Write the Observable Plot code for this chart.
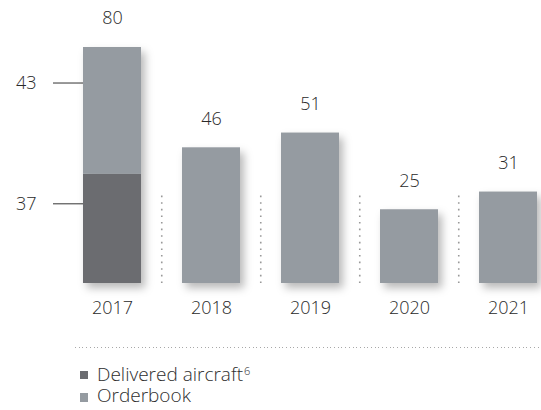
<!DOCTYPE html>
<html><head><meta charset="utf-8">
<script src="https://cdn.jsdelivr.net/npm/d3@7"></script>
<script src="https://cdn.jsdelivr.net/npm/@observablehq/plot@0.6"></script>
<style>
body{margin:0;background:#fff;font-family:"Open Sans",Lato,sans-serif;font-weight:300;}
#chart svg g[aria-label="bar"]{filter:drop-shadow(4px 5px 4px rgba(0,0,0,0.28));}
.sep{margin-left:75px;height:1px;margin-top:7px;background:repeating-linear-gradient(to right,#a8a8a8 0 1px,transparent 1px 3.7px);}
.legend{margin-left:80px;margin-top:16px;font-size:19px;color:#2e2e2e;line-height:21px}
.sw{display:inline-block;width:8px;height:8px;margin-right:9px;vertical-align:2px}
sup{font-size:11px;vertical-align:6px;line-height:0;margin-left:1px}
</style></head>
<body>
<div id="chart"></div>
<div class="sep"></div>
<div class="legend" id="legend"></div>
<script>
const years = ["2017", "2018", "2019", "2020", "2021"];
const delivered = [37, 0, 0, 0, 0];
const orderbook = [43, 46, 51, 25, 31];
const totals = [80, 46, 51, 25, 31];
const seriesNames = ["Delivered aircraft", "Orderbook"];
const seriesColors = ["#6b6c70", "#959ba1"];
const sideLabels = [37, 43]; // segment labels shown left of the 2017 bar

const rows = [];
years.forEach((y, i) => {
  if (delivered[i]) rows.push({year: y, type: seriesNames[0], value: delivered[i]});
  rows.push({year: y, type: seriesNames[1], value: orderbook[i]});
});
const totalRows = years.map((y, i) => ({year: y, total: totals[i]}));
// label anchor positions inside each 2017 segment
const sideRows = [
  {year: years[0], v: sideLabels[0], y: sideLabels[0] * 0.73},
  {year: years[0], v: sideLabels[1], y: sideLabels[0] + sideLabels[1] * 0.72}
];

const W = 541, ML = 82, MR = 3, PAD = 0.417;
const step = (W - ML - MR) / (years.length - PAD);
const bw = step * (1 - PAD);
const FS = 18;

const plot = Plot.plot({
  width: W, height: 340,
  marginLeft: ML, marginRight: MR, marginTop: 47, marginBottom: 57,
  style: {fontFamily: "'Open Sans', Lato, sans-serif", fontWeight: 300, background: "#fff", overflow: "visible"},
  x: {domain: years, axis: null, paddingInner: PAD, paddingOuter: 0},
  y: {domain: [0, 80], axis: null},
  color: {domain: seriesNames, range: seriesColors},
  marks: [
    Plot.tickY(sideRows, {x: "year", y: "y", dx: -30, insetRight: 28, stroke: "#333", strokeWidth: 1}),
    Plot.text(sideRows, {x: "year", y: "y", text: d => String(d.v), dx: -bw / 2 - 47, textAnchor: "end", fontSize: FS, fill: "#2a2a2a"}),
    Plot.ruleX(years.slice(1), {x: d => d, y1: 0, y2: 30, dx: -step / 2, stroke: "#999", strokeWidth: 1.6, strokeDasharray: "1.6,5"}),
    Plot.barY(rows, Plot.stackY({x: "year", y: "value", fill: "type", order: seriesNames})),
    Plot.text(totalRows, {x: "year", y: "total", text: d => String(d.total), dy: -29, fontSize: FS, fill: "#2a2a2a"}),
    Plot.text(years, {x: d => d, text: d => d, frameAnchor: "bottom", dy: 30, fontSize: FS, fill: "#2a2a2a"})
  ]
});
document.getElementById("chart").appendChild(plot);

document.getElementById("legend").innerHTML =
  `<div><span class="sw" style="background:${seriesColors[0]}"></span>${seriesNames[0]}<sup>6</sup></div>` +
  `<div><span class="sw" style="background:${seriesColors[1]};height:9px;vertical-align:0"></span>${seriesNames[1]}</div>`;
</script>
</body></html>
